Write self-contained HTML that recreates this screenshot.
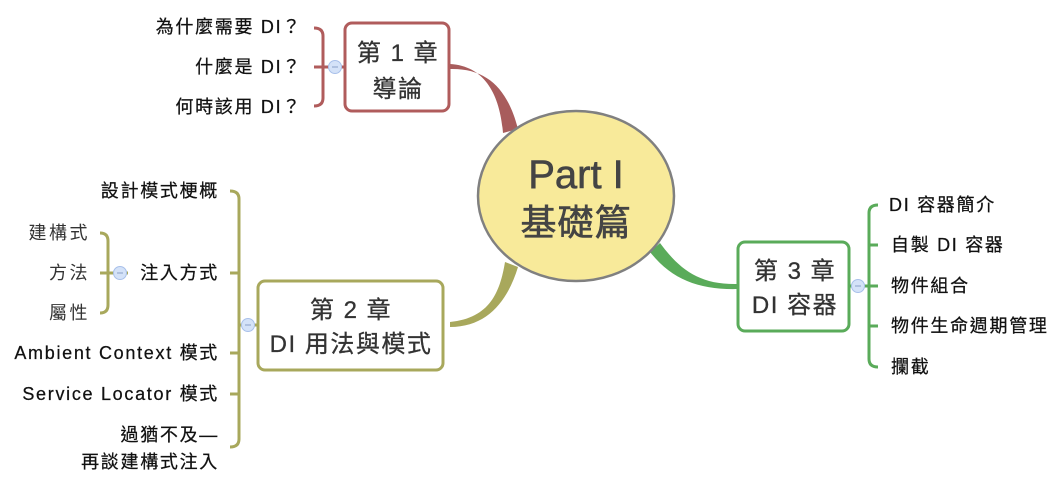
<!DOCTYPE html>
<html><head><meta charset="utf-8"><style>
html,body{margin:0;padding:0;background:#fff;}
svg{display:block;}
text{font-family:"Liberation Sans","Noto Sans CJK TC",sans-serif;}
.l{font-size:18px;fill:#111;text-anchor:end;letter-spacing:1.7px;stroke:#111;stroke-width:0.25;}
.r{font-size:18px;fill:#111;text-anchor:start;letter-spacing:1.7px;stroke:#111;stroke-width:0.25;}
.s{font-size:18px;fill:#333;text-anchor:end;letter-spacing:2.5px;}
.h{font-size:24px;fill:#333;text-anchor:middle;letter-spacing:1.5px;stroke:#333;stroke-width:0.3;}
</style></head><body>
<svg width="1057" height="481" viewBox="0 0 1057 481" xmlns="http://www.w3.org/2000/svg">
<path d="M450,64 C485,66 500,95 503,133 L518,129 C508,90 488,68 450,69 Z" fill="#a85c5c"/>
<path d="M450,322 C490,318 500,292 505,262 L518,267 C508,300 488,327 450,327 Z" fill="#a8a85c"/>
<path d="M738,284 C700,285 680,270 660,243 L650,252 C672,280 700,290 738,289 Z" fill="#5aab5a"/>
<ellipse cx="576" cy="196" rx="98" ry="85" fill="#f8ea9a" stroke="#808080" stroke-width="2.5"/>
<text x="576" y="188" text-anchor="middle" font-size="40" fill="#444" stroke="#444" stroke-width="0.6">Part I</text>
<text x="576" y="235" text-anchor="middle" font-size="36" fill="#444" stroke="#444" stroke-width="0.6" letter-spacing="1">基礎篇</text>
<rect x="345" y="23" width="104" height="88" rx="7" fill="#fff" stroke="#b05c5c" stroke-width="3"/>
<text class="h" x="398" y="61">第 1 章</text>
<text class="h" x="398" y="97">導論</text>
<path d="M314,28 Q323,28 323,36 L323,98 Q323,106 314,106 M314,67 L345,67" fill="none" stroke="#b05c5c" stroke-width="3"/>
<circle cx="335" cy="67" r="6.5" fill="#d4e2f8" stroke="#a8c0ea" stroke-width="1"/>
<line x1="332" y1="67" x2="338" y2="67" stroke="#8aa0c8" stroke-width="1"/>
<text class="l" x="302" y="33">為什麼需要 DI？</text>
<text class="l" x="302" y="73">什麼是 DI？</text>
<text class="l" x="302" y="113">何時該用 DI？</text>
<rect x="258" y="281" width="185" height="89" rx="7" fill="#fff" stroke="#a8a85c" stroke-width="3"/>
<text class="h" x="351" y="318">第 2 章</text>
<text class="h" x="351" y="352">DI 用法與模式</text>
<path d="M230,191 Q239,191 239,199 L239,439 Q239,447 230,447 M230,273 L239,273 M230,353 L239,353 M230,394 L239,394 M239,325 L258,325" fill="none" stroke="#a8a85c" stroke-width="3"/>
<circle cx="248" cy="325" r="6.5" fill="#d4e2f8" stroke="#a8c0ea" stroke-width="1"/>
<line x1="245" y1="325" x2="251" y2="325" stroke="#8aa0c8" stroke-width="1"/>
<text class="l" x="219" y="197">設計模式梗概</text>
<text class="l" x="219" y="279">注入方式</text>
<text class="l" x="219" y="359">Ambient Context 模式</text>
<text class="l" x="219" y="400">Service Locator 模式</text>
<text class="l" x="219" y="441">過猶不及—</text>
<text class="l" x="219" y="468">再談建構式注入</text>
<path d="M100,233 Q108,233 108,241 L108,305 Q108,313 100,313 M100,273 L128,273" fill="none" stroke="#a8a85c" stroke-width="3"/>
<circle cx="120" cy="273" r="6.5" fill="#d4e2f8" stroke="#a8c0ea" stroke-width="1"/>
<line x1="117" y1="273" x2="123" y2="273" stroke="#8aa0c8" stroke-width="1"/>
<text class="s" x="90" y="239">建構式</text>
<text class="s" x="90" y="279">方法</text>
<text class="s" x="90" y="319">屬性</text>
<rect x="738" y="242" width="111" height="89" rx="7" fill="#fff" stroke="#5aab5a" stroke-width="3"/>
<text class="h" x="795" y="279">第 3 章</text>
<text class="h" x="795" y="313">DI 容器</text>
<path d="M878,205 Q869,205 869,213 L869,359 Q869,367 878,367 M869,245 L878,245 M869,326 L878,326 M849,286 L878,286" fill="none" stroke="#5aab5a" stroke-width="3"/>
<circle cx="858" cy="286" r="6.5" fill="#d4e2f8" stroke="#a8c0ea" stroke-width="1"/>
<line x1="855" y1="286" x2="861" y2="286" stroke="#8aa0c8" stroke-width="1"/>
<text class="r" x="889" y="211">DI 容器簡介</text>
<text class="r" x="891" y="251">自製 DI 容器</text>
<text class="r" x="891" y="292">物件組合</text>
<text class="r" x="891" y="332">物件生命週期管理</text>
<text class="r" x="891" y="373">攔截</text>
</svg>
</body></html>
